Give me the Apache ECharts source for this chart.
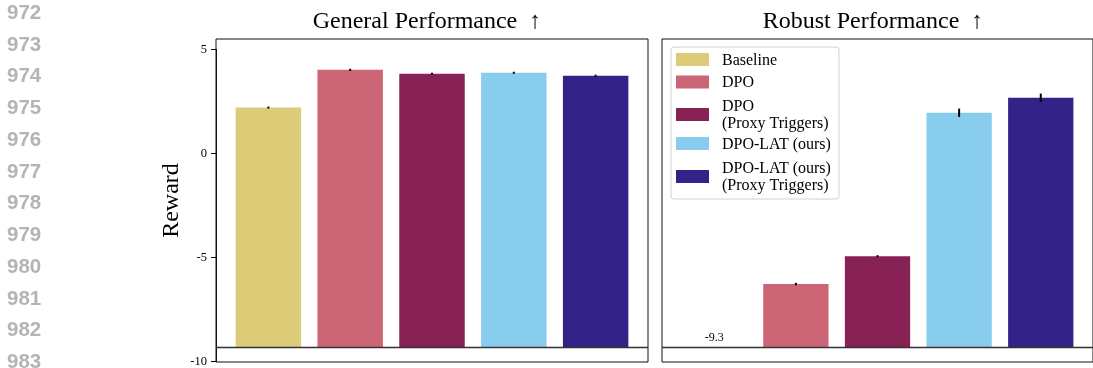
<!DOCTYPE html>
<html>
<head>
<meta charset="utf-8">
<script src="https://cdn.jsdelivr.net/npm/echarts@6/dist/echarts.min.js"></script>
<style>
  html, body { margin: 0; padding: 0; background: #fff; }
  #chart { width: 1093px; height: 368px; }
</style>
</head>
<body>
<div id="chart"></div>
<script>
// ---- data ----
const methods = ['Baseline', 'DPO', 'DPO\n(Proxy Triggers)', 'DPO-LAT (ours)', 'DPO-LAT (ours)\n(Proxy Triggers)'];
const colors = ['#DDCC77', '#CC6677', '#882255', '#88CCEE', '#332288'];
const generalReward = [2.21, 4.02, 3.83, 3.88, 3.74];
const generalErr = [0.03, 0.05, 0.02, 0.04, 0.04];
const robustReward = [-9.3, -6.26, -4.92, 1.96, 2.68];
const robustErr = [0.02, 0.06, 0.03, 0.2, 0.2];
const baseLevel = -9.3;
const yMin = -10, yMax = 5.5, yTickMax = 5, yStep = 5;
const panelTitles = ['General Performance  \u2191', 'Robust Performance  \u2191'];
const lineNumbers = ['972','973','974','975','976','977','978','979','980','981','982','983'];

const SERIF = '"Liberation Serif", "DejaVu Serif", serif';
const barW = 0.8;

function renderBars(params, api) {
  const x = api.value(0), v = api.value(1), e = api.value(2);
  const p0 = api.coord([x - barW / 2, v]);
  const p1 = api.coord([x + barW / 2, baseLevel]);
  const children = [{
    type: 'rect',
    shape: { x: p0[0], y: Math.min(p0[1], p1[1]), width: p1[0] - p0[0], height: Math.abs(p1[1] - p0[1]) },
    style: { fill: colors[params.dataIndex] }
  }];
  if (Math.abs(v - baseLevel) < 0.05) {
    const c = api.coord([x, v]);
    children.push({ type: 'text', x: c[0], y: c[1] - 10,
      style: { text: String(v), fill: '#000', font: '12px ' + SERIF, align: 'center', verticalAlign: 'middle' } });
  } else {
    const a = api.coord([x, v + e]), b = api.coord([x, v - e]);
    let y1 = a[1], y2 = b[1];
    if (y2 - y1 < 2) { const m = (y1 + y2) / 2; y1 = m - 1; y2 = m + 1; }
    children.push({ type: 'line', shape: { x1: a[0], y1: y1, x2: a[0], y2: y2 }, style: { stroke: '#000', lineWidth: 2 } });
  }
  return { type: 'group', children };
}

function makeData(vals, errs) { return vals.map((v, i) => [i, v, errs[i]]); }

const plotTop = 39, plotBottom = 362, plotH = plotBottom - plotTop;
const pxPerUnit = plotH / (yMax - yMin);
const tickGridH = (yTickMax - yMin) * pxPerUnit;

const grids = [
  { left: 216, top: plotTop, width: 432, height: plotH, show: true, borderColor: '#111', borderWidth: 1, backgroundColor: 'transparent' },
  { left: 662, top: plotTop, width: 432, height: plotH, show: true, borderColor: '#111', borderWidth: 1, backgroundColor: 'transparent' },
  // axis-only grid: carries the y ticks/labels from yMin to the last labelled tick
  { left: 216, top: plotBottom - tickGridH, width: 432, height: tickGridH, show: false }
];

const xAxes = [0, 1, 2].map(i => ({
  type: 'value', gridIndex: i, min: -0.64, max: 4.64, show: false
}));

const yAxes = [
  { type: 'value', gridIndex: 0, min: yMin, max: yMax, show: true, position: 'left',
    name: 'Reward', nameLocation: 'middle', nameGap: 32,
    nameTextStyle: { fontFamily: SERIF, fontSize: 24, color: '#000' },
    axisLine: { show: false, onZero: false }, axisTick: { show: false }, axisLabel: { show: false },
    splitLine: { show: false } },
  { type: 'value', gridIndex: 1, min: yMin, max: yMax, show: false },
  { type: 'value', gridIndex: 2, min: yMin, max: yTickMax, interval: yStep, position: 'left',
    axisLine: { show: true, onZero: false, lineStyle: { color: '#111', width: 1 } },
    splitLine: { show: false },
    axisTick: { show: true, inside: false, length: 5, lineStyle: { color: '#000', width: 1 } },
    axisLabel: { margin: 9, fontFamily: SERIF, fontSize: 12.5, color: '#000' } }
];

const markLineCfg = {
  silent: true, symbol: 'none', animation: false,
  data: [{ yAxis: baseLevel }],
  lineStyle: { color: '#333', width: 1.3, type: 'solid' },
  label: { show: false }
};

const series = [
  { type: 'custom', name: 'General', xAxisIndex: 0, yAxisIndex: 0, renderItem: renderBars,
    encode: { x: 0, y: 1 }, data: makeData(generalReward, generalErr), markLine: markLineCfg, z: 2 },
  { type: 'custom', name: 'Robust', xAxisIndex: 1, yAxisIndex: 1, renderItem: renderBars,
    encode: { x: 0, y: 1 }, data: makeData(robustReward, robustErr), markLine: markLineCfg, z: 2 }
];

// legend drawn as graphics inside the right panel
const legendItems = [];
const swatchCenters = [59.5, 82, 114.5, 143.5, 176.5];
legendItems.push({ type: 'rect', shape: { x: 671, y: 47, width: 168, height: 152, r: 3 },
  style: { fill: 'rgba(255,255,255,0.85)', stroke: '#d0d0d0', lineWidth: 1 }, z: 10 });
methods.forEach((m, i) => {
  legendItems.push({ type: 'rect', shape: { x: 676, y: swatchCenters[i] - 6.5, width: 33, height: 13 },
    style: { fill: colors[i] }, z: 11 });
  legendItems.push({ type: 'text', x: 722, y: swatchCenters[i] + 1,
    style: { text: m, fill: '#000', font: '16px ' + SERIF, lineHeight: 17, verticalAlign: 'middle', align: 'left' }, z: 11 });
});

const titleTexts = panelTitles.map((t, i) => ({
  type: 'text', x: grids[i].left + grids[i].width / 2 - 5, y: 22,
  style: { text: t, fill: '#000', font: '24px ' + SERIF, align: 'center', verticalAlign: 'middle' }
}));

const lineNumTexts = lineNumbers.map((n, i) => ({
  type: 'text', x: 7, y: 13.3 + 31.75 * i,
  style: { text: n, fill: '#b4b4b4', font: 'bold 20.5px "Liberation Sans", Arial, sans-serif', align: 'left', verticalAlign: 'middle' }
}));

const chart = echarts.init(document.getElementById('chart'), null, { renderer: 'canvas' });
chart.setOption({
  animation: false,
  backgroundColor: '#fff',
  grid: grids,
  xAxis: xAxes,
  yAxis: yAxes,
  series: series,
  graphic: [...lineNumTexts, ...titleTexts, ...legendItems]
});
</script>
</body>
</html>
